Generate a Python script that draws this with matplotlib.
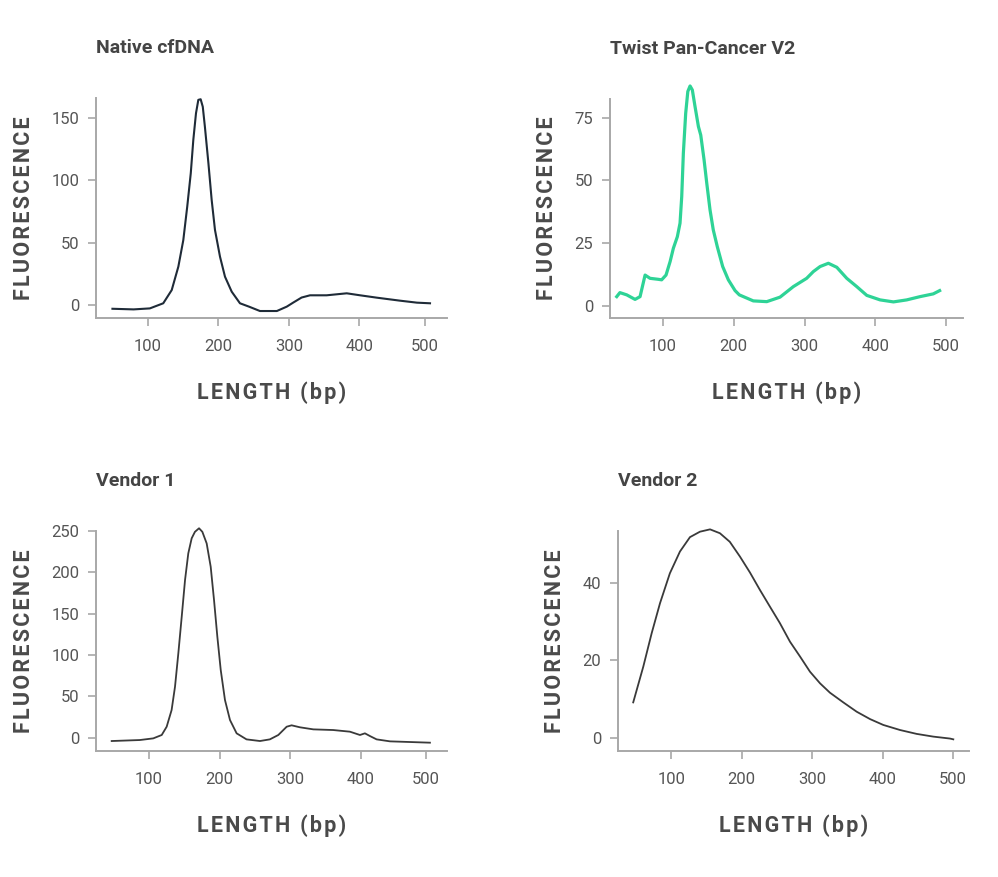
import numpy as np
import matplotlib
matplotlib.use("Agg")
import matplotlib.pyplot as plt

plt.rcParams['font.family'] = ['Roboto', 'DejaVu Sans']

# Native cfDNA
native_x = [50, 80, 103, 122, 134, 143.4, 150.4, 156, 161, 164.6, 168.4, 171.7, 175,
            178, 181, 186, 190.6, 195.3, 202.4, 209.5, 219, 230.7, 244, 259, 283,
            297, 306, 318, 330, 353.5, 382, 401, 426.6, 462, 488, 508]
native_y = [-3, -3.5, -2.7, 1.4, 12, 30.8, 52, 79, 105.7, 132.4, 153.8, 164.5, 165,
            159, 143, 113.7, 84.3, 60.2, 38.8, 22.7, 10.7, 1.4, -1.4, -4.8, -4.8,
            -1.3, 1.9, 6, 7.8, 7.8, 9.4, 7.8, 5.9, 3.5, 1.9, 1.4]

# Twist Pan-Cancer V2
twist_x = [34.5, 39, 48.7, 60.4, 67.5, 74.6, 81.6, 93.4, 98, 104.2, 110, 114.6, 120.2,
           124, 126.4, 128.7, 132, 135, 138.2, 141.4, 145.2, 150, 153.3, 158, 161.8,
           166.4, 171, 176.7, 184.3, 192.3, 201.8, 207.8, 227.6, 246.6, 265.4, 284.2,
           303, 312.5, 322, 333.7, 345.6, 359.7, 373.8, 388, 406.8, 425.7, 444.5,
           463.3, 482, 491]
twist_y = [3.6, 5.2, 4.3, 2.5, 3.6, 12.2, 10.9, 10.5, 10.3, 12.2, 17.6, 22.9, 27.5,
           32.9, 43.5, 60.8, 76.7, 85.4, 87.6, 86, 79.4, 71.4, 68, 58.1, 48.8,
           38.2, 30.2, 23.5, 15.6, 10.3, 6, 4.3, 1.9, 1.6, 3.4, 7.6,
           10.9, 13.6, 15.6, 16.9, 15.3, 10.9, 7.6, 4.1, 2.3, 1.5, 2.3,
           3.6, 4.7, 6]

# Vendor 1
v1_x = [47.2, 87, 106, 118, 125, 132, 136.8, 141.5, 146.3, 151, 155.6, 160.4, 165,
        170.8, 175.5, 181.6, 187.3, 192, 196.7, 201.5, 207.5, 214.6, 224, 238, 257,
        271, 283, 294.8, 301.8, 313.6, 332.5, 360.6, 384.3, 398.5, 406, 413.8, 424,
        444.6, 475.4, 506]
v1_y = [-4, -2.8, -0.8, 3.3, 13.3, 33.5, 61.7, 102, 146.4, 190.8, 223, 241.2, 249,
        253.3, 249, 235, 206.8, 166.6, 122.2, 81.9, 45.6, 21.4, 5.3, -2, -4,
        -2, 3.3, 13.3, 15, 12.6, 10.1, 9.3, 7.3, 3.3, 5.3, 2, -2,
        -4.4, -5.2, -6]

# Vendor 2
v2_x = [46, 60.3, 72.2, 84, 98, 112.3, 126.5, 140.7, 155, 169, 183, 197.4, 211.6,
        225.8, 240, 254, 268.4, 282.6, 296.7, 311, 325, 344, 363, 382, 400.7,
        424.4, 448, 471.6, 495.3, 500]
v2_y = [9.2, 18.4, 27, 34.7, 42.4, 48, 51.7, 53.1, 53.7, 52.7, 50.5, 46.7, 42.6,
        38.1, 33.8, 29.6, 24.8, 21, 17.1, 14.1, 11.7, 9.2, 6.8, 4.9, 3.4, 2.1,
        1.1, 0.4, -0.1, -0.3]

W, H = 998, 877
fig = plt.figure(figsize=(W / 100, H / 100), dpi=100)


def box(l, t, r, b):
    return [l / W, 1 - b / H, (r - l) / W, (b - t) / H]


def squeeze(k):
    # 400-500 bp span is drawn a little narrower in the left panels
    fwd = lambda x: np.where(x <= 400, x, 400 + (x - 400) * k)
    inv = lambda y: np.where(y <= 400, y, 400 + (y - 400) / k)
    return fwd, inv


def spaced(s):
    return '\u200a'.join(s)


panels = [
    dict(pos=box(96, 98, 447, 318), x=native_x, y=native_y, title='Native cfDNA',
         color='#1f2b38', lw=1.5, xlim=(26.7, 534), ylim=(-10.4, 166),
         yticks=[0, 50, 100, 150], k=0.926),
    dict(pos=box(610, 99, 962.7, 317.7), x=twist_x, y=twist_y, title='Twist Pan-Cancer V2',
         color='#2ed396', lw=2.3, xlim=(25, 523.6), ylim=(-4.8, 82.4),
         yticks=[0, 25, 50, 75], k=None),
    dict(pos=box(96, 531, 446.7, 750.7), x=v1_x, y=v1_y, title='Vendor 1',
         color='#3a3a3a', lw=1.3, xlim=(25, 531.8), ylim=(-15.7, 250),
         yticks=[0, 50, 100, 150, 200, 250], k=0.92),
    dict(pos=box(617.7, 531.3, 969.3, 751), x=v2_x, y=v2_y, title='Vendor 2',
         color='#3a3a3a', lw=1.3, xlim=(24, 522.7), ylim=(-3.3, 53.2),
         yticks=[0, 20, 40], k=None),
]

for p in panels:
    ax = fig.add_axes(p['pos'])
    if p['k'] is not None:
        ax.set_xscale('function', functions=squeeze(p['k']))
    ax.plot(p['x'], p['y'], color=p['color'], lw=p['lw'], clip_on=False)
    ax.set_xlim(p['xlim'])
    ax.set_ylim(p['ylim'])
    ax.set_xticks([100, 200, 300, 400, 500])
    ax.set_yticks(p['yticks'])
    for s in ['top', 'right']:
        ax.spines[s].set_visible(False)
    for s in ['left', 'bottom']:
        ax.spines[s].set_color('#a8a8a8')
        ax.spines[s].set_linewidth(1.4)
    ax.tick_params(axis='both', colors='#a8a8a8', labelcolor='#555555',
                   labelsize=12, length=6, width=1.2)
    ax.tick_params(axis='x', pad=9)
    ax.tick_params(axis='y', pad=6)
    ax.set_xlabel(spaced('LENGTH (bp)'), fontsize=15.5, fontweight='bold',
                  color='#4a4a4a', labelpad=20)
    ax.set_ylabel(spaced('FLUORESCENCE'), fontsize=15.5, fontweight='bold',
                  color='#4a4a4a', labelpad=12)
    # title sits ~50 px above the axes top
    l, b, w, h = p['pos']
    top_px = (1 - (b + h)) * H
    fig.text(l, 1 - (top_px - 50) / H, p['title'], fontsize=14, fontweight='bold',
             color='#444444', ha='left', va='center')

fig.savefig('out.png', dpi=100, facecolor='white')
